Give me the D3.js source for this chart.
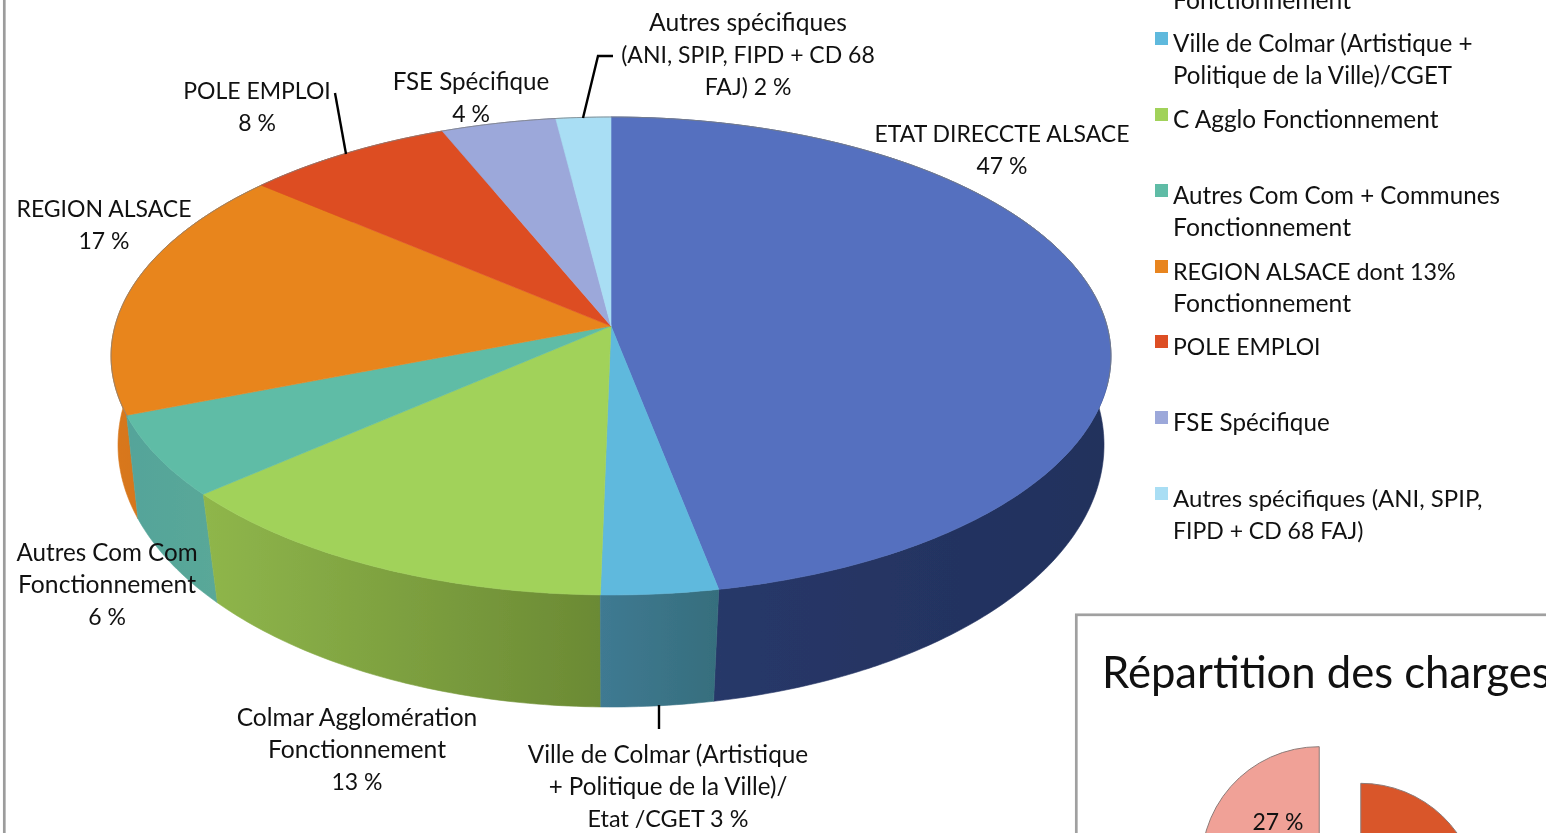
<!DOCTYPE html>
<html lang="fr">
<head>
<meta charset="utf-8">
<title>Répartition des produits et des charges</title>
<script src="https://cdn.jsdelivr.net/npm/d3@7/dist/d3.min.js"></script>
<style>
html,body{margin:0;padding:0;background:#fff;overflow:hidden}
svg{display:block}
text{font-family:Lato,"Open Sans",sans-serif;fill:#111}
</style>
</head>
<body>
<svg id="c" width="1546" height="833"></svg>
<script>
// ---- data ----
const categories = ["ETAT DIRECCTE ALSACE","Ville de Colmar","C Agglo Fonctionnement","Autres Com Com","REGION ALSACE","POLE EMPLOI","FSE Spécifique","Autres spécifiques"];
const shares = [46.95,3.35,13.3,5.5,17.1,7.6,4.2,2.0];
const topColors = ["#5470bf","#5fb9dd","#a1d25a","#5fbca6","#e8851f","#dd4e24","#9ca8da","#a9def4"];
const sideColorsLeft = ["#2a3a6c","#3f7a92","#8fb64b","#54a49a","#d9781c","#c5431d","#7f89b5","#8cb8cc"];
const sideColorsRight = ["#21305c","#366e7d","#6b8a34","#5aa898","#c96d17","#b53c19","#6e78a0","#7aa2b4"];
const dataLabels = [
  ["ETAT DIRECCTE ALSACE","47 %"],
  ["Ville de Colmar (Artistique","+ Politique de la Ville)/","Etat /CGET 3 %"],
  ["Colmar Agglomération","Fonctionnement","13 %"],
  ["Autres Com Com","Fonctionnement","6 %"],
  ["REGION ALSACE","17 %"],
  ["POLE EMPLOI","8 %"],
  ["FSE Spécifique","4 %"],
  ["Autres spécifiques","(ANI, SPIP, FIPD + CD 68","FAJ) 2 %"]
];
const legendItems = [
  ["Ville de Colmar (Artistique +","Politique de la Ville)/CGET"],
  ["C Agglo Fonctionnement"],
  ["Autres Com Com + Communes","Fonctionnement"],
  ["REGION ALSACE dont 13%","Fonctionnement"],
  ["POLE EMPLOI"],
  ["FSE Spécifique"],
  ["Autres spécifiques (ANI, SPIP,","FIPD + CD 68 FAJ)"]
];
const legendColors = ["#5fb9dd","#a1d25a","#5fbca6","#e8851f","#dd4e24","#9ca8da","#a9def4"];
const legendClippedLine = "Fonctionnement";
const chargesTitle = "Répartition des charges";
const chargesShares = [73,27];
const chargesColors = ["#d9562b","#f0a197"];
const chargesLabel = "27 %";

// ---- layout ----
const FS = 23;
const LH = 32;
// the reference face has wider lower-case letters than Lato: scale lines by their lower-case share
const sizeOf = s => {
  const letters = s.replace(/[^\p{L}]/gu,"");
  const lower = s.replace(/[^\p{Ll}]/gu,"");
  return FS*(1+0.08*(letters.length ? lower.length/s.length : 0));
};
const topProj = {cx:611, cy:326, A:496, B:235.2, k:0.1255};
const botProj = {cx:611, cy:421.4, A:491, B:259.9, k:0.09};
const labelPos = [[1002,142],[668,763],[357,726],[107,561],[104,217],[257,99],[471,90],[748,31]];
const legendTextX = 1173, legendSwatchX = 1155, legendSwatchSize = 13;
const legendBaselines = [52,128,204,280,355,431,507];
const leaders = [
  [[335,93],[346,154]],
  [[613,56],[598,56],[583,118]],
  [[659,705],[659,729]]
];
const chargesCenter = [1340,883], chargesR = 118, chargesExplode = 27.7;

const svg = d3.select("#c");
const defs = svg.append("defs");
defs.append("filter").attr("id","soft").attr("x","-5%").attr("y","-5%").attr("width","110%").attr("height","110%")
  .append("feGaussianBlur").attr("stdDeviation",0.5);

// frames
svg.append("line").attr("x1",4.3).attr("x2",4.3).attr("y1",0).attr("y2",833).attr("stroke","#9c9c9c").attr("stroke-width",2.7);
svg.append("rect").attr("x",1076.3).attr("y",614.8).attr("width",600).attr("height",400).attr("fill","#fff").attr("stroke","#a0a0a0").attr("stroke-width",2.7);

// perspective projection of a point at angle a (clockwise from 12 o'clock) on the rim
const project = (p,a)=>{
  const u=Math.sin(a), v=-Math.cos(a), d=1-p.k*v;
  return [p.cx+p.A*u/d, p.cy+p.B*v/d];
};
const angles = d3.pie().sort(null).value(d=>d)(shares);
const line = d3.line();
const rim = (p,a0,a1)=>{
  const n=Math.max(2,Math.ceil((a1-a0)/0.015));
  return d3.range(n+1).map(i=>project(p,a0+(a1-a0)*i/n));
};

const marks = svg.append("g").attr("filter","url(#soft)");

// side walls, back to front
const order = angles.map((d,i)=>i).sort((a,b)=>{
  const m=d=>-Math.cos((angles[d].startAngle+angles[d].endAngle)/2);
  return m(a)-m(b);
});
order.forEach(i=>{
  const s=angles[i];
  const t=rim(topProj,s.startAngle,s.endAngle), b=rim(botProj,s.startAngle,s.endAngle);
  const poly=t.concat(b.slice().reverse());
  const xs=d3.extent(poly,d=>d[0]);
  const id="side"+i;
  const g=defs.append("linearGradient").attr("id",id).attr("gradientUnits","userSpaceOnUse")
    .attr("x1",xs[0]).attr("x2",xs[1]).attr("y1",0).attr("y2",0);
  g.append("stop").attr("offset",0).attr("stop-color",sideColorsLeft[i]);
  g.append("stop").attr("offset",1).attr("stop-color",sideColorsRight[i]);
  marks.append("path").attr("d",line(poly)+"Z").attr("fill",`url(#${id})`).attr("stroke",`url(#${id})`).attr("stroke-width",0.6);
});

// top faces
angles.forEach((s,i)=>{
  const pts=[[topProj.cx,topProj.cy]].concat(rim(topProj,s.startAngle,s.endAngle));
  marks.append("path").attr("d",line(pts)+"Z").attr("fill",topColors[i]).attr("stroke",topColors[i]).attr("stroke-width",0.6);
});
// thin grey rim along the back of the pie
marks.append("path").attr("d",line(rim(topProj,-Math.PI*0.62,Math.PI*0.58))).attr("fill","none").attr("stroke","#7f8080").attr("stroke-opacity",0.75).attr("stroke-width",1);

// second chart
const pieB = d3.pie().sort(null).value(d=>d)(chargesShares);
const arcB = d3.arc().innerRadius(0).outerRadius(chargesR);
pieB.forEach((s,i)=>{
  const mid=(s.startAngle+s.endAngle)/2;
  const x=chargesCenter[0]+chargesExplode*Math.sin(mid), y=chargesCenter[1]-chargesExplode*Math.cos(mid);
  marks.append("path").attr("transform",`translate(${x},${y})`).attr("d",arcB(s))
    .attr("fill",chargesColors[i]).attr("stroke","#8c7b78").attr("stroke-width",1);
});

// leaders
leaders.forEach(l=>svg.append("path").attr("d",line(l)).attr("fill","none").attr("stroke","#000").attr("stroke-width",2.4));

// data labels
dataLabels.forEach((lines,i)=>{
  const t=svg.append("text").attr("text-anchor","middle");
  lines.forEach((s,j)=>t.append("tspan").attr("x",labelPos[i][0]).attr("y",labelPos[i][1]+j*LH).attr("font-size",sizeOf(s)).text(s));
});

// legend
svg.append("text").attr("x",legendTextX).attr("y",9).attr("font-size",sizeOf(legendClippedLine)).text(legendClippedLine);
legendItems.forEach((lines,i)=>{
  const y=legendBaselines[i];
  svg.append("rect").attr("x",legendSwatchX).attr("y",y-20).attr("width",legendSwatchSize).attr("height",legendSwatchSize).attr("fill",legendColors[i]);
  const t=svg.append("text");
  lines.forEach((s,j)=>t.append("tspan").attr("x",legendTextX).attr("y",y+j*LH).attr("font-size",sizeOf(s)).text(s));
});

// second chart texts
svg.append("text").attr("x",1102).attr("y",688).attr("font-size",43.6).text(chargesTitle);
svg.append("text").attr("x",1278).attr("y",830).attr("text-anchor","middle").attr("font-size",FS).text(chargesLabel);
</script>
</body>
</html>
